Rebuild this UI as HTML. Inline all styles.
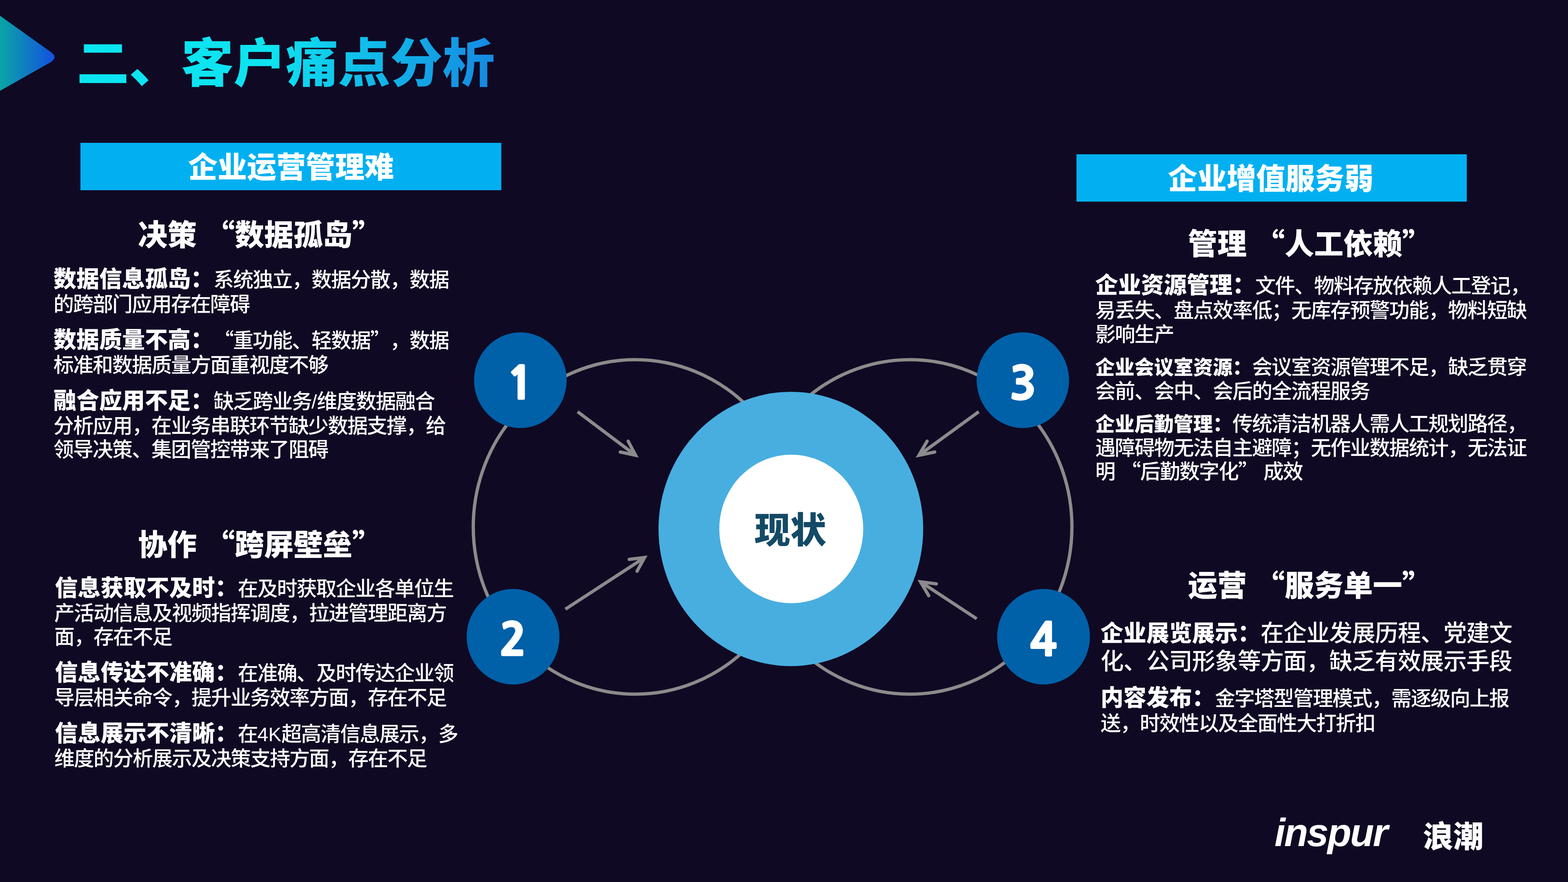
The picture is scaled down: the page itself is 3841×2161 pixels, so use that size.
<!DOCTYPE html>
<html lang="zh-CN">
<head>
<meta charset="utf-8">
<title>二、客户痛点分析</title>
<style>
html,body{margin:0;padding:0;background:#100923;}
body{width:3841px;height:2161px;overflow:hidden;position:relative;font-family:"Liberation Sans", "Noto Sans CJK SC", sans-serif;color:#fff;text-spacing-trim:space-all;font-kerning:none;}
#slide{position:absolute;left:0;top:0;width:3841px;height:2161px;background:#100923;overflow:hidden;}
#txt{position:absolute;left:0;top:0;width:3841px;height:2161px;transform:translateZ(0);}
.r{font-size:50px;letter-spacing:-2px;line-height:0;}
.ln{position:absolute;white-space:nowrap;line-height:80px;height:80px;font-weight:500;color:#fff;margin:0;}
.b{font-weight:900;font-size:56px;line-height:0;}
.b48{font-weight:900;font-size:48px;line-height:0;}
.r56{font-size:57px;letter-spacing:-1px;line-height:0;}
.q{font-family:"Noto Sans CJK SC","Liberation Sans",sans-serif;}
.ln .q{font-size:50px;letter-spacing:-2px;line-height:0;}
.ln .h.q{font-size:inherit;letter-spacing:0;}
.lat{font-family:"Liberation Sans",sans-serif;font-weight:400;font-size:48px;line-height:0;}
.sp{display:inline-block;width:0.29em;}
svg{position:absolute;left:0;top:0;}
.bar{position:absolute;background:#02b0f1;}
.h{font-weight:900;}
#title{font-weight:900;height:200px;line-height:200px;margin-top:-60px;background:linear-gradient(99deg,#0ae6f1 0%,#0ee3f0 46%,#1586e1 100%);-webkit-background-clip:text;background-clip:text;color:transparent;-webkit-text-fill-color:transparent;}
.num{position:absolute;font-family:"NanumGothic","Liberation Sans",sans-serif;font-weight:800;color:#fff;text-align:center;white-space:nowrap;-webkit-text-stroke:3px #fff;}
</style>
</head>
<body>
<div id="slide">
<svg id="art" width="3841" height="2161" viewBox="0 0 3841 2161" xmlns="http://www.w3.org/2000/svg">
<defs>
<linearGradient id="gtri" x1="0" y1="0" x2="134" y2="0" gradientUnits="userSpaceOnUse">
<stop offset="0" stop-color="#0aa5a6"/><stop offset="1" stop-color="#1450e0"/>
</linearGradient>
</defs>
<path d="M0 38.5 L124.5 127.5 Q143 140.5 124 152.5 L0 222.5 Z" fill="url(#gtri)"/>
<g fill="none" stroke="#8b8b8b" stroke-width="8">
<ellipse cx="1556.3" cy="1291" rx="397" ry="409.8"/>
<ellipse cx="2228.8" cy="1291" rx="397" ry="409.8"/>
</g>
<ellipse cx="1937.3" cy="1296" rx="324.2" ry="336" fill="#48aee0"/>
<ellipse cx="1938.3" cy="1296" rx="176.3" ry="182" fill="#ffffff"/>
<g fill="#0060a8">
<ellipse cx="1274.6" cy="931.5" rx="113.4" ry="117.2"/>
<ellipse cx="1256.8" cy="1560" rx="113.7" ry="117"/>
<ellipse cx="2505.6" cy="931.5" rx="113.1" ry="117.2"/>
<ellipse cx="2556.2" cy="1560" rx="113.7" ry="117"/>
</g>
<g fill="none" stroke="#8b8b8b" stroke-width="8" stroke-linejoin="miter" stroke-linecap="butt">
<path d="M1415 1008.8 L1556 1114.8"/>
<path d="M1385 1492.5 L1578 1366.8"/>
<path d="M2397.5 1008.8 L2252 1114.8"/>
<path d="M2392.5 1516 L2256 1426.3"/>
</g>
<g fill="none" stroke="#8b8b8b" stroke-width="8" stroke-linejoin="miter" stroke-linecap="round" stroke-miterlimit="10">
<path d="M1538.8 1081 L1557 1115.5 L1519.5 1107.5"/>
<path d="M1541.5 1370.5 L1579 1366 L1560.5 1399.5"/>
<path d="M2271 1081 L2251 1115.5 L2289.5 1107.5"/>
<path d="M2293.5 1430.5 L2255 1425.5 L2275 1459.5"/>
</g>
</svg>
<div class="bar" style="left:197px;top:350px;width:1031px;height:116px;"></div>
<div class="bar" style="left:2637px;top:378px;width:956px;height:116px;"></div>
<div id="txt">
<div class="ln" id="title" style="left:188.00px;top:116.65px;font-size:128px;">二、客户痛点分析</div>
<div class="ln" id="cap1" style="left:461.00px;top:370.05px;font-size:72px;"><span class="h">企业运营管理难</span></div>
<div class="ln" id="cap2" style="left:2861.00px;top:398.05px;font-size:72px;"><span class="h">企业增值服务弱</span></div>
<div class="ln" id="h1" style="left:338.00px;top:535.75px;font-size:72px;"><span class="h">决策</span><span class="sp"></span><span class="h q">“</span><span class="h">数据孤岛</span><span class="h q">”</span></div>
<div class="ln" id="h2" style="left:338.00px;top:1294.65px;font-size:72px;"><span class="h">协作</span><span class="sp"></span><span class="h q">“</span><span class="h">跨屏壁垒</span><span class="h q">”</span></div>
<div class="ln" id="h3" style="left:2910.00px;top:558.35px;font-size:72px;"><span class="h">管理</span><span class="sp"></span><span class="h q">“</span><span class="h">人工依赖</span><span class="h q">”</span></div>
<div class="ln" id="h4" style="left:2910.00px;top:1394.85px;font-size:72px;"><span class="h">运营</span><span class="sp"></span><span class="h q">“</span><span class="h">服务单一</span><span class="h q">”</span></div>
<div class="ln" id="a1" style="left:131.00px;top:647.37px;font-size:48px;"><span class="b">数据信息孤岛：</span><span class="r">系统独立，数据分散，数据</span></div>
<div class="ln" id="a2" style="left:131.00px;top:707.37px;font-size:48px;"><span class="r">的跨部门应用存在障碍</span></div>
<div class="ln" id="a3" style="left:131.00px;top:796.37px;font-size:48px;"><span class="b">数据质量不高：</span><span class="q">“</span><span class="r">重功能、轻数据</span><span class="q">”</span><span class="r">，数据</span></div>
<div class="ln" id="a4" style="left:131.00px;top:856.37px;font-size:48px;"><span class="r">标准和数据质量方面重视度不够</span></div>
<div class="ln" id="a5" style="left:131.00px;top:945.37px;font-size:48px;"><span class="b">融合应用不足：</span><span class="r">缺乏跨业务</span><span class="lat">/</span><span class="r">维度数据融合</span></div>
<div class="ln" id="a6" style="left:131.00px;top:1005.37px;font-size:48px;"><span class="r">分析应用，在业务串联环节缺少数据支撑，给</span></div>
<div class="ln" id="a7" style="left:131.00px;top:1063.37px;font-size:48px;"><span class="r">领导决策、集团管控带来了阻碍</span></div>
<div class="ln" id="b1" style="left:134.50px;top:1404.37px;font-size:48px;"><span class="b">信息获取不及时：</span><span class="r">在及时获取企业各单位生</span></div>
<div class="ln" id="b2" style="left:133.00px;top:1464.37px;font-size:48px;"><span class="r">产活动信息及视频指挥调度，拉进管理距离方</span></div>
<div class="ln" id="b3" style="left:133.00px;top:1522.37px;font-size:48px;"><span class="r">面，存在不足</span></div>
<div class="ln" id="b4" style="left:134.50px;top:1611.37px;font-size:48px;"><span class="b">信息传达不准确：</span><span class="r">在准确、及时传达企业领</span></div>
<div class="ln" id="b5" style="left:133.00px;top:1671.37px;font-size:48px;"><span class="r">导层相关命令，提升业务效率方面，存在不足</span></div>
<div class="ln" id="b6" style="left:134.50px;top:1760.37px;font-size:48px;"><span class="b">信息展示不清晰：</span><span class="r">在</span><span class="lat">4K</span><span class="r">超高清信息展示，多</span></div>
<div class="ln" id="b7" style="left:133.00px;top:1820.37px;font-size:48px;"><span class="r">维度的分析展示及决策支持方面，存在不足</span></div>
<div class="ln" id="c1" style="left:2683.00px;top:662.37px;font-size:48px;"><span class="b">企业资源管理：</span><span class="r">文件、物料存放依赖人工登记，</span></div>
<div class="ln" id="c2" style="left:2683.00px;top:722.37px;font-size:48px;"><span class="r">易丢失、盘点效率低；无库存预警功能，物料短缺</span></div>
<div class="ln" id="c3" style="left:2683.00px;top:780.87px;font-size:48px;"><span class="r">影响生产</span></div>
<div class="ln" id="c4" style="left:2683.00px;top:861.37px;font-size:48px;"><span class="b48">企业会议室资源：</span><span class="r">会议室资源管理不足，缺乏贯穿</span></div>
<div class="ln" id="c5" style="left:2683.00px;top:919.87px;font-size:48px;"><span class="r">会前、会中、会后的全流程服务</span></div>
<div class="ln" id="c6" style="left:2683.00px;top:999.87px;font-size:48px;"><span class="b48">企业后勤管理：</span><span class="r">传统清洁机器人需人工规划路径，</span></div>
<div class="ln" id="c7" style="left:2683.00px;top:1058.87px;font-size:48px;"><span class="r">遇障碍物无法自主避障；无作业数据统计，无法证</span></div>
<div class="ln" id="c8" style="left:2683.00px;top:1116.87px;font-size:48px;"><span class="r">明</span><span class="sp"></span><span class="q">“</span><span class="r">后勤数字化</span><span class="q">”</span><span class="sp"></span><span class="r">成效</span></div>
<div class="ln" id="d1" style="left:2696.00px;top:1514.67px;font-size:48px;"><span class="b">企业展览展示：</span><span class="r56">在企业发展历程、党建文</span></div>
<div class="ln" id="d2" style="left:2696.00px;top:1584.37px;font-size:48px;"><span class="r56">化、公司形象等方面，缺乏有效展示手段</span></div>
<div class="ln" id="d3" style="left:2696.00px;top:1673.07px;font-size:48px;"><span class="b">内容发布：</span><span class="r">金字塔型管理模式，需逐级向上报</span></div>
<div class="ln" id="d4" style="left:2696.00px;top:1733.87px;font-size:48px;"><span class="r">送，时效性以及全面性大打折扣</span></div>
<div class="ln" id="now" style="left:1848.00px;top:1252.01px;font-size:88px;color:#134a66;font-family:'Noto Sans CJK SC', 'Liberation Sans', sans-serif;"><span class="h">现状</span></div>
<div class="ln num" id="n1" style="left:1174.50px;top:899.73px;width:200px;font-size:109px;">1</div>
<div class="ln num" id="n2" style="left:1156.50px;top:1528.23px;width:200px;font-size:109px;">2</div>
<div class="ln num" id="n3" style="left:2406.00px;top:899.73px;width:200px;font-size:109px;">3</div>
<div class="ln num" id="n4" style="left:2456.00px;top:1528.23px;width:200px;font-size:109px;">4</div>
<div class="ln" id="logo1" style="left:3122px;top:1999.74px;font-size:96px;font-weight:700;font-style:italic;letter-spacing:-3px;">inspur</div>
<div class="ln" id="logo2" style="left:3486px;top:2004.36px;font-size:74px;font-weight:900;font-family:'Noto Sans CJK SC', 'Liberation Sans', sans-serif;">浪潮</div>
</div>
</div>
</body>
</html>
